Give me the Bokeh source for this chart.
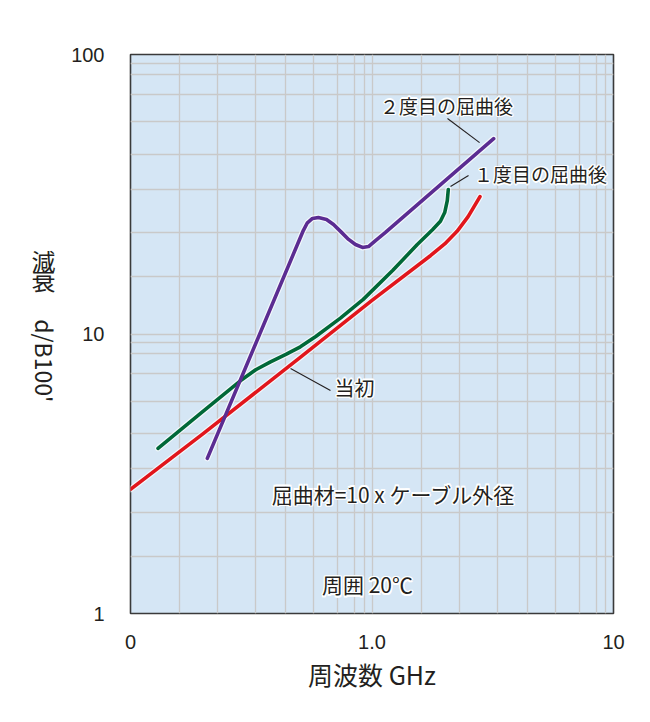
import math
from bokeh.plotting import figure
from bokeh.layouts import row
from bokeh.models import FixedTicker, Label, ColumnDataSource
from bokeh.core.properties import value
from bokeh.embed import file_html
from bokeh.resources import INLINE

# ---------------- data ----------------
# Initial (当初)
freq_initial = [0.1, 0.2, 0.5, 1.0, 1.75, 2.0, 2.25, 2.5, 2.8]
att_initial = [2.78, 4.4, 8.2, 13.2, 19.1, 21.0, 23.3, 26.3, 31.0]

# After first bend (1度目の屈曲後)
freq_bend1 = [0.13, 0.195, 0.285, 0.33, 0.38, 0.44, 0.505, 0.585, 0.74, 0.92,
              1.22, 1.54, 1.78, 1.92, 2.0, 2.05, 2.07]
att_bend1 = [3.9, 5.2, 6.8, 7.45, 7.95, 8.45, 9.0, 9.8, 11.4, 13.3,
             16.9, 20.9, 23.6, 25.3, 27.2, 30.0, 32.9]

# After second bend (2度目の屈曲後)
freq_bend2 = [0.208, 0.52, 0.54, 0.567, 0.60, 0.648, 0.693, 0.748, 0.80, 0.854,
              0.913, 0.967, 1.034, 1.137, 3.19]
att_bend2 = [3.59, 23.5, 25.0, 25.9, 26.1, 25.7, 24.65, 23.1, 21.8, 20.9,
             20.4, 20.55, 21.6, 23.1, 50.0]

# axis ticks / labels
x_ticks = [0.1, 1.0, 10.0]
x_tick_labels = ["0", "1.0", "10"]
y_ticks = [1.0, 10.0, 100.0]
y_tick_labels = ["1", "10", "100"]
# positions of the minor grid lines inside each decade (as multiples)
grid_mult = [1.6, 2.3, 3.3, 4.4, 5.75, 7.2, 8.5, 9.3]

JP = "Noto Sans CJK JP"
INK = "#231f20"

STRIP_W = 66

# ---------------- main figure ----------------
p = figure(width=650 - STRIP_W, height=722, x_axis_type="log", y_axis_type="log",
           x_range=(0.1, 10), y_range=(1, 100),
           output_backend="svg", toolbar_location=None,
           min_border_left=130 - STRIP_W, min_border_right=37,
           min_border_top=54, min_border_bottom=109)

p.background_fill_color = "#d5e6f5"
p.border_fill_color = "white"
p.outline_line_color = "#3a3a3a"
p.outline_line_width = 1.6

xgrid_ticks = [0.1 * m for m in grid_mult] + [1.0] + [1.0 * m for m in grid_mult]
ygrid_ticks = [1.0 * m for m in grid_mult] + [10.0] + [10.0 * m for m in grid_mult]
p.xgrid.ticker = FixedTicker(ticks=xgrid_ticks)
p.ygrid.ticker = FixedTicker(ticks=ygrid_ticks)
for g in (p.xgrid, p.ygrid):
    g.grid_line_color = "#c9c9c9"
    g.grid_line_width = 1.3
    g.minor_grid_line_color = None

p.xaxis.ticker = FixedTicker(ticks=x_ticks)
p.yaxis.ticker = FixedTicker(ticks=y_ticks)
p.xaxis.major_label_overrides = {t: s for t, s in zip(x_ticks, x_tick_labels)}
p.yaxis.major_label_overrides = {t: s for t, s in zip(y_ticks, y_tick_labels)}

for ax in (p.xaxis, p.yaxis):
    ax.axis_line_color = None
    ax.major_tick_line_color = None
    ax.minor_tick_line_color = None
    ax.major_tick_out = 0
    ax.major_tick_in = 0
    ax.major_label_text_font = "Liberation Sans"
    ax.major_label_text_font_size = "20px"
    ax.major_label_text_color = INK

p.xaxis.major_label_standoff = 21
p.yaxis.major_label_standoff = 26

p.xaxis.axis_label = "周波数 GHz"
p.xaxis.axis_label_text_font = JP
p.xaxis.axis_label_text_font_size = "25px"
p.xaxis.axis_label_text_font_style = "normal"
p.xaxis.axis_label_text_color = INK
p.xaxis.axis_label_standoff = 4

# ---------------- curves ----------------
series = [
    (freq_initial, att_initial, "#e1161c"),
    (freq_bend1, att_bend1, "#006838"),
    (freq_bend2, att_bend2, "#5b2c92"),
]
for fx, fy, col in series:
    src = ColumnDataSource(data=dict(x=fx, y=fy))
    p.line("x", "y", source=src, line_color="white", line_width=6, line_alpha=0.7,
           line_join="round", line_cap="round")
for fx, fy, col in series:
    src = ColumnDataSource(data=dict(x=fx, y=fy))
    p.line("x", "y", source=src, line_color=col, line_width=3.6,
           line_join="round", line_cap="round")

# ---------------- callouts ----------------
leaders_x0 = [2.054, 2.51, 0.673]
leaders_y0 = [59.0, 36.9, 6.28]
leaders_x1 = [2.79, 2.114, 0.46]
leaders_y1 = [48.4, 33.7, 7.53]
p.segment(x0=leaders_x0, y0=leaders_y0, x1=leaders_x1, y1=leaders_y1,
          line_color=INK, line_width=1.1)

halo_offsets = [(-1.5, 0), (1.5, 0), (0, -1.5), (0, 1.5),
                (-1.1, -1.1), (1.1, 1.1), (-1.1, 1.1), (1.1, -1.1)]


def halo_label(x, y, text, size="19px"):
    for dx, dy in halo_offsets:
        p.add_layout(Label(x=x, y=y, text=text, x_offset=dx, y_offset=dy,
                           text_font=JP, text_font_size=size, text_color="white",
                           text_align="center", text_baseline="middle"))
    p.add_layout(Label(x=x, y=y, text=text, text_font=JP, text_font_size=size,
                       text_color=INK, text_align="center", text_baseline="middle"))


halo_label(2.035, 65.7, "２度目の屈曲後")
halo_label(4.99, 37.5, "１度目の屈曲後")
halo_label(0.846, 6.44, "当初", size="20px")
halo_label(1.228, 2.687, "屈曲材=10 x ケーブル外径", size="21px")
halo_label(0.958, 1.27, "周囲 20℃", size="21px")

# ---------------- y axis title strip (vertical Japanese style) ----------------
q = figure(width=STRIP_W, height=722, x_range=(0, STRIP_W), y_range=(722, 0),
           output_backend="svg", toolbar_location=None,
           x_axis_location=None, y_axis_location=None,
           min_border=0, min_border_left=0, min_border_right=0,
           min_border_top=0, min_border_bottom=0)
q.grid.visible = False
q.outline_line_color = None
q.background_fill_color = "white"
q.border_fill_color = "white"

q.text(x=[43, 43], y=[266, 291], text=["減", "衰"], text_font=value(JP),
       text_font_size="24px", text_color=INK, text_align="center",
       text_baseline="middle")
q.text(x=[44], y=[342], text=["d/B100'"], angle=-math.pi / 2, text_font=value(JP),
       text_font_size="23px", text_color=INK, text_align="left",
       text_baseline="middle")

layout = row(q, p, spacing=0)
open("out.html", "w").write(file_html(layout, INLINE))
